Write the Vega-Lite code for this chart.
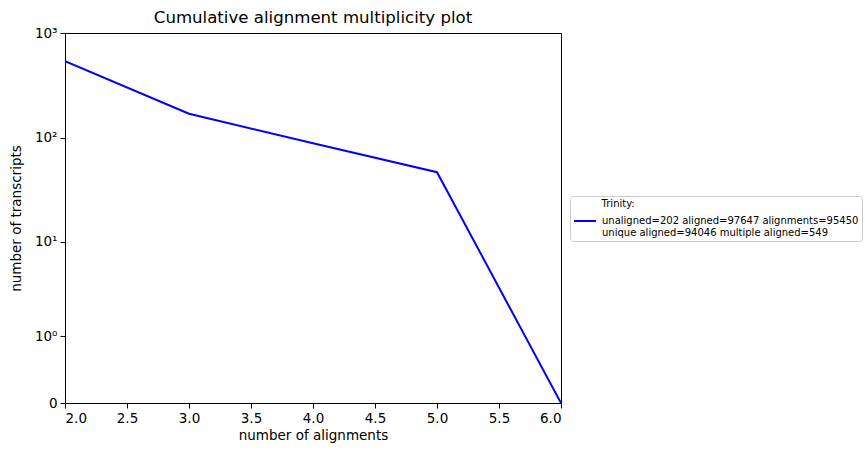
{
  "$schema": "https://vega.github.io/schema/vega-lite/v6.json",
  "width": 496,
  "height": 370,
  "autosize": "none",
  "padding": {"left": 65, "top": 33, "right": 304, "bottom": 52},
  "background": "white",
  "title": {
    "text": "Cumulative alignment multiplicity plot",
    "font": "DejaVu Sans",
    "fontSize": 16.6,
    "fontWeight": "normal",
    "color": "black",
    "offset": -1
  },
  "data": {
    "values": [
      {"alignments": 2, "transcripts": 540, "series": "Trinity"},
      {"alignments": 3, "transcripts": 170, "series": "Trinity"},
      {"alignments": 4, "transcripts": 89, "series": "Trinity"},
      {"alignments": 5, "transcripts": 47, "series": "Trinity"},
      {"alignments": 6, "transcripts": 0, "series": "Trinity"}
    ]
  },
  "mark": {"type": "line", "strokeWidth": 2, "clip": true},
  "encoding": {
    "x": {
      "field": "alignments",
      "type": "quantitative",
      "scale": {"domain": [2, 6], "nice": false, "zero": false},
      "axis": {
        "values": [2, 2.5, 3, 3.5, 4, 4.5, 5, 5.5, 6],
        "format": ".1f",
        "title": "number of alignments"
      }
    },
    "y": {
      "field": "transcripts",
      "type": "quantitative",
      "scale": {"type": "symlog", "constant": 0.3, "domain": [0, 1000], "nice": false},
      "axis": {
        "values": [0, 1, 10, 100, 1000],
        "labelExpr": "datum.value == 0 ? '0' : datum.value == 1 ? '10⁰' : datum.value == 10 ? '10¹' : datum.value == 100 ? '10²' : '10³'",
        "title": "number of transcripts"
      }
    },
    "color": {
      "field": "series",
      "type": "nominal",
      "scale": {"range": ["#0000ff"]},
      "legend": {
        "title": "\u200b\u00a0\u00a0\u00a0\u00a0\u00a0\u00a0\u00a0\u00a0\u00a0Trinity:",
        "titleFont": "DejaVu Sans",
        "titleFontSize": 10,
        "titleFontWeight": "normal",
        "titleColor": "black",
        "titlePadding": 0,
        "orient": "none",
        "legendX": 505,
        "legendY": 163,
        "symbolType": "stroke",
        "symbolSize": 480,
        "symbolStrokeWidth": 2,
        "labelExpr": "['unaligned=202 aligned=97647 alignments=95450', 'unique aligned=94046 multiple aligned=549']",
        "labelFont": "DejaVu Sans",
        "labelFontSize": 10,
        "labelBaseline": "middle",
        "labelOffset": 5,
        "labelColor": "black",
        "labelLimit": 400,
        "strokeColor": "#cccccc",
        "fillColor": "white",
        "cornerRadius": 3,
        "padding": 3
      }
    }
  },
  "config": {
    "view": {"stroke": "black", "strokeWidth": 1},
    "axis": {
      "grid": false,
      "domainColor": "black",
      "tickColor": "black",
      "tickSize": 5,
      "labelFont": "DejaVu Sans",
      "labelFontSize": 13.5,
      "labelColor": "black",
      "titleFont": "DejaVu Sans",
      "titleFontSize": 13.5,
      "titleFontWeight": "normal",
      "titleColor": "black",
      "labelPadding": 3
    },
    "axisY": {"titlePadding": 11},
    "axisX": {"titlePadding": 4}
  }
}
